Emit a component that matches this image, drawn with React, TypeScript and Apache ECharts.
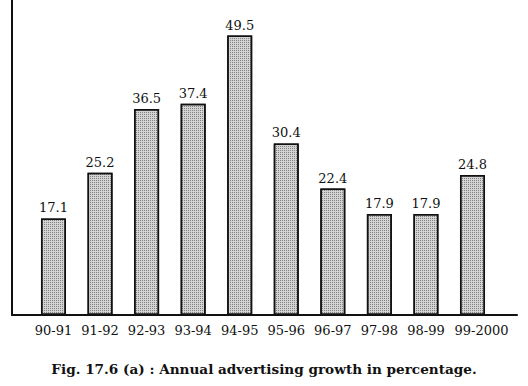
import React, { useEffect, useRef } from "react";
import * as echarts from "echarts";

const categories = ["90-91", "91-92", "92-93", "93-94", "94-95", "95-96", "96-97", "97-98", "98-99", "99-2000"];
const growth = [17.1, 25.2, 36.5, 37.4, 49.5, 30.4, 22.4, 17.9, 17.9, 24.8];
const caption = "Fig. 17.6 (a) : Annual advertising growth in percentage.";

export default function App() {
  const ref = useRef<HTMLDivElement>(null);
  useEffect(() => {
    if (!ref.current) return;
    const chart = echarts.init(ref.current, null, { renderer: "svg" });
    const positions = categories.map((_, i) => i);
    const lastIndex = categories.length - 1;
    chart.setOption({
      animation: false,
      backgroundColor: "#ffffff",
      title: {
        text: caption,
        left: "center",
        top: 357,
        textStyle: {
          fontFamily: "DejaVu Serif",
          fontWeight: "bold",
          fontSize: 13.6,
          color: "#111",
        },
      },
      grid: { left: 12, right: 11, top: 0, bottom: 71 },
      xAxis: {
        type: "value",
        min: -0.891,
        max: 9.956,
        splitLine: { show: false },
        axisTick: { show: false },
        axisLine: { show: true, onZero: false, lineStyle: { color: "#111", width: 2 } },
        axisLabel: {
          customValues: positions,
          formatter: (v: number) => {
            const i = Math.round(v);
            const t = categories[i] ?? "";
            return i === lastIndex ? `{last|${t}}` : t;
          },
          rich: {
            last: {
              fontFamily: "DejaVu Serif",
              fontSize: 13,
              color: "#111",
              padding: [0, 0, 0, 18],
            },
          },
          fontFamily: "DejaVu Serif",
          fontSize: 13,
          color: "#111",
          margin: 9,
          showMinLabel: true,
          showMaxLabel: true,
        },
      },
      yAxis: {
        type: "value",
        min: 0,
        max: 55.8,
        splitLine: { show: false },
        axisTick: { show: false },
        axisLabel: { show: false },
        axisLine: { show: true, onZero: false, lineStyle: { color: "#111", width: 2 } },
      },
      series: [
        {
          type: "bar",
          data: growth.map((v, i) => [i, v]),
          barWidth: 25,
          itemStyle: {
            color: "#d4d4d4",
            borderColor: "#111",
            borderWidth: 1.5,
            decal: {
              symbol: "rect",
              symbolSize: 1,
              dashArrayX: [1, 1],
              dashArrayY: [1, 1],
              rotation: 0,
              color: "rgba(60,60,60,0.55)",
            },
          },
          label: {
            show: true,
            position: "top",
            distance: 4,
            formatter: (p: any) => String(p.value[1]),
            fontFamily: "DejaVu Serif",
            fontSize: 13,
            color: "#111",
          },
        },
      ],
    });
    return () => chart.dispose();
  }, []);
  return <div ref={ref} style={{ width: 528, height: 386, position: "absolute", left: 0, top: 0 }} />;
}
